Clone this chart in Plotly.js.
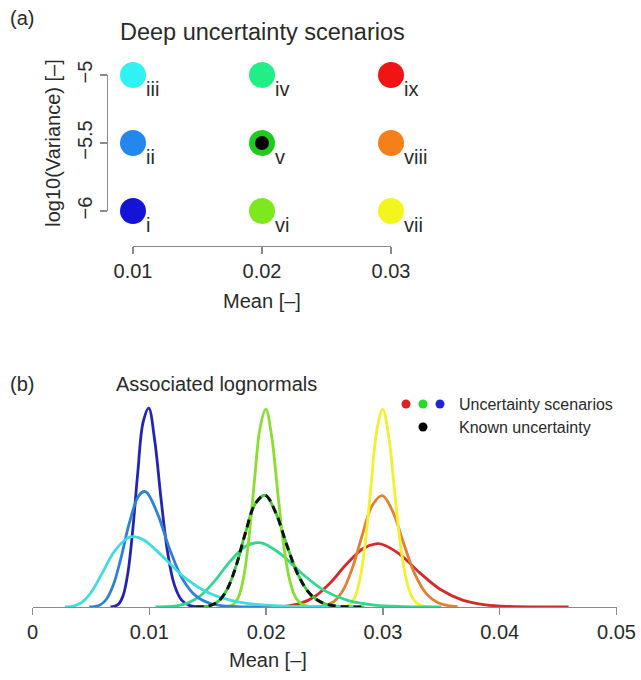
<!DOCTYPE html>
<html><head><meta charset="utf-8">
<script src="https://cdn.plot.ly/plotly-3.0.1.min.js"></script>
<style>html,body{margin:0;padding:0;background:#fff}#chart{width:641px;height:680px}</style>
</head><body><div id="chart"></div>
<script>
const W = 641, H = 680;

// ---- Panel (a): deep uncertainty scenarios ----
const scenarioLabels = ['i','ii','iii','iv','v','vi','vii','viii','ix'];
const scenarioMean   = [0.01,0.01,0.01,0.02,0.02,0.02,0.03,0.03,0.03];
const scenarioLogVar = [-6,-5.5,-5,-5,-5.5,-6,-6,-5.5,-5];
const dotColors = ['#1414d8','#2288ee','#2ff2f2','#22ee88','#1ecc1e','#7de81e','#f5f51e','#f5801a','#f01414'];
const knownMean = [0.02];
const knownLogVar = [-5.5];
const aTickX = [0.01,0.02,0.03];
const aTickXText = ['0.01','0.02','0.03'];
const aTickY = [-6,-5.5,-5];
const aTickYText = ['\u22126','\u22125.5','\u22125'];

// ---- Panel (b): associated lognormal densities ----
const xI = [0.006677,0.007018,0.007377,0.007754,0.008151,0.008568,0.009006,0.009466,0.009950,0.010459,0.010994,0.011556,0.012147,0.012769,0.013422,0.014108,0.014829];
const yI = [0.20,1.25,6.02,22.7,66.4,151.6,269.4,372.8,401.9,337.4,220.6,112.4,44.6,13.8,3.31,0.62,0.09];
const xII = [0.004861,0.005309,0.005799,0.006334,0.006918,0.007556,0.008253,0.009014,0.009544,0.009846,0.010754,0.011745,0.012829,0.014012,0.015304,0.016716,0.018258,0.019941];
const yII = [0.16,0.93,4.33,15.7,44.2,97.1,166.2,221.4,233.3,229.6,185.6,116.8,57.2,21.8,6.49,1.50,0.27,0.04];
const xIII = [0.002773,0.003236,0.003776,0.004407,0.005142,0.006001,0.007002,0.008171,0.008668,0.009535,0.011126,0.012983,0.015150,0.017679,0.020630,0.024073,0.028091];
const yIII = [0.16,0.87,3.80,12.9,34.0,69.9,111.9,139.6,142.1,135.5,102.5,60.4,27.7,9.89,2.75,0.60,0.10];
const xIV = [0.010536,0.011398,0.012329,0.013337,0.014427,0.015606,0.016882,0.018262,0.019273,0.019755,0.021369,0.023116,0.025006,0.027049,0.029260,0.031652,0.034239,0.035000];
const yIV = [0.08,0.49,2.29,8.36,23.8,52.8,91.2,122.7,130.1,128.5,104.8,66.6,33.0,12.7,3.81,0.89,0.16,0.10];
const xV = [0.013969,0.014603,0.015265,0.015958,0.016682,0.017439,0.018230,0.019057,0.019921,0.020825,0.021770,0.022758,0.023790,0.024869,0.025998,0.027177,0.028410];
const yV = [0.11,0.67,3.27,12.4,36.5,83.7,149.6,208.2,225.7,190.5,125.3,64.1,25.6,7.94,1.92,0.36,0.05];
const xVI = [0.016356,0.016770,0.017194,0.017629,0.018075,0.018533,0.019001,0.019482,0.019975,0.020480,0.020999,0.021530,0.022074,0.022633,0.023205,0.023793,0.024394];
const yVI = [0.16,1.04,5.16,19.9,59.8,139.9,254.8,361.6,399.7,344.0,230.6,120.4,48.9,15.5,3.82,0.73,0.11];
const xVII = [0.026242,0.026683,0.027131,0.027587,0.028050,0.028522,0.029001,0.029488,0.029983,0.030487,0.030999,0.031520,0.032050,0.032588,0.033136,0.033693,0.034259];
const yVII = [0.15,0.98,4.90,19.1,57.8,136.3,250.4,358.3,399.3,346.5,234.2,123.3,50.6,16.1,4.01,0.78,0.12];
const xVIII = [0.023631,0.024341,0.025073,0.025826,0.026602,0.027402,0.028225,0.029074,0.029947,0.030848,0.031775,0.032730,0.033713,0.034727,0.035770,0.036400];
const yVIII = [0.10,0.61,2.98,11.5,34.3,79.8,144.8,204.5,224.9,192.7,128.6,66.8,27.0,8.52,2.09,0.82];
const xIX = [0.019594,0.020651,0.021765,0.022940,0.024178,0.025483,0.026858,0.028307,0.029507,0.029835,0.031445,0.033142,0.034930,0.036815,0.038802,0.040896,0.043103,0.045429,0.045900];
const yIX = [0.07,0.40,1.94,7.27,21.2,48.4,85.7,118.3,127.9,127.2,106.5,69.5,35.3,14.0,4.30,1.03,0.19,0.03,0.02];
const curveColors = {i:'#2424b4',ii:'#2d82d8',iii:'#40dde0',iv:'#30d88e',v:'#3ccc3c',vi:'#8ade30',vii:'#f2f030',viii:'#e08030',ix:'#d42a2a'};
const bTickX = [0,0.01,0.02,0.03,0.04,0.05];
const bTickXText = ['0','0.01','0.02','0.03','0.04','0.05'];
const legendLabels = ['Uncertainty scenarios','Known uncertainty'];
const legendDotColors = ['#e02020','#22dd22','#2222dd'];

const px = v => v / W, py = v => 1 - v / H;
const FONT = 'Liberation Sans, Arial, Helvetica, sans-serif';
const TXT = '#2a2a2a', AX = '#8a8a8a';

const traces = [];
// panel a
traces.push({x: scenarioMean, y: scenarioLogVar, mode: 'markers', xaxis: 'x', yaxis: 'y', cliponaxis: false,
  marker: {size: 26, color: dotColors, line: {width: 0}}, hoverinfo: 'skip'});
traces.push({x: knownMean, y: knownLogVar, mode: 'markers', xaxis: 'x', yaxis: 'y', cliponaxis: false,
  marker: {size: 14, color: '#000', line: {width: 0}}, hoverinfo: 'skip'});
// panel b curves
const curveList = [
  ['ix', xIX, yIX], ['viii', xVIII, yVIII], ['vii', xVII, yVII],
  ['i', xI, yI], ['iv', xIV, yIV], ['v', xV, yV], ['vi', xVI, yVI],
  ['ii', xII, yII], ['iii', xIII, yIII]
];
curveList.forEach(([k, xs, ys]) => {
  traces.push({x: xs, y: ys, mode: 'lines', xaxis: 'x2', yaxis: 'y2', name: k,
    line: {color: curveColors[k], width: 2.8, shape: 'spline'}, hoverinfo: 'skip'});
});
traces.push({x: xV, y: yV, mode: 'lines', xaxis: 'x2', yaxis: 'y2', name: 'known',
  line: {color: '#111', width: 3, dash: '8px,5px', shape: 'spline'}, hoverinfo: 'skip'});

const annotations = [];
scenarioLabels.forEach((lab, i) => {
  annotations.push({x: scenarioMean[i], y: scenarioLogVar[i], xref: 'x', yref: 'y', text: lab,
    showarrow: false, xanchor: 'left', yanchor: 'middle', xshift: 11, yshift: -14,
    font: {size: 20, color: TXT, family: FONT}});
});
const paperText = (text, x, y, size, anchor) => ({text, x: px(x), y: py(y), xref: 'paper', yref: 'paper',
  showarrow: false, xanchor: anchor || 'center', yanchor: 'middle', font: {size, color: TXT, family: FONT}});
annotations.push(paperText('(a)', 22, 18, 20));
annotations.push(paperText('Deep uncertainty scenarios', 262.5, 32, 23.5));
annotations.push(paperText('(b)', 22, 384, 20));
annotations.push(paperText('Associated lognormals', 216, 384, 20));
annotations.push(paperText('Mean [\u2013]', 268, 660, 20));
annotations.push(paperText(legendLabels[0], 457, 404, 16, 'left'));
annotations.push(paperText(legendLabels[1], 457, 427, 16, 'left'));

const shapes = [];
const dot = (cx, cy, color) => ({type: 'circle', xref: 'paper', yref: 'paper', xsizemode: 'pixel', ysizemode: 'pixel',
  xanchor: px(cx), yanchor: py(cy), x0: -4.5, x1: 4.5, y0: -4.5, y1: 4.5, fillcolor: color, line: {width: 0}});
legendDotColors.forEach((c, i) => shapes.push(dot(406 + 17 * i, 404, c)));
shapes.push(dot(423, 427, '#000'));

const axisCommon = {ticks: 'outside', ticklen: 7, tickwidth: 1.3, tickcolor: AX, showline: true, linecolor: AX,
  linewidth: 1.3, showgrid: false, zeroline: false, tickfont: {size: 20, color: TXT, family: FONT}, fixedrange: true};

const layout = {
  width: W, height: H, margin: {l: 0, r: 0, t: 0, b: 0}, paper_bgcolor: '#fff', plot_bgcolor: 'rgba(0,0,0,0)',
  showlegend: false, font: {family: FONT, color: TXT, size: 20},
  xaxis: Object.assign({}, axisCommon, {domain: [px(133), px(391)], range: [0.01, 0.03], anchor: 'free', position: py(246),
    tickmode: 'array', tickvals: aTickX, ticktext: aTickXText,
    title: {text: 'Mean [\u2013]', standoff: 12, font: {size: 20, color: TXT, family: FONT}}}),
  yaxis: Object.assign({}, axisCommon, {domain: [py(211), py(75)], range: [-6, -5], anchor: 'free', position: px(107),
    tickmode: 'array', tickvals: aTickY, ticktext: aTickYText, tickangle: -90,
    title: {text: 'log10(Variance) [\u2013]', standoff: 6, font: {size: 20, color: TXT, family: FONT}}}),
  xaxis2: Object.assign({}, axisCommon, {domain: [32.5 / W, 616.5 / W], range: [0, 0.05], anchor: 'y2',
    tickmode: 'array', tickvals: bTickX, ticktext: bTickXText}),
  yaxis2: {domain: [py(607), py(387)], range: [0, 444.4], visible: false, anchor: 'x2', fixedrange: true},
  annotations, shapes
};

Plotly.newPlot('chart', traces, layout, {staticPlot: true, displayModeBar: false});
</script>
</body></html>
